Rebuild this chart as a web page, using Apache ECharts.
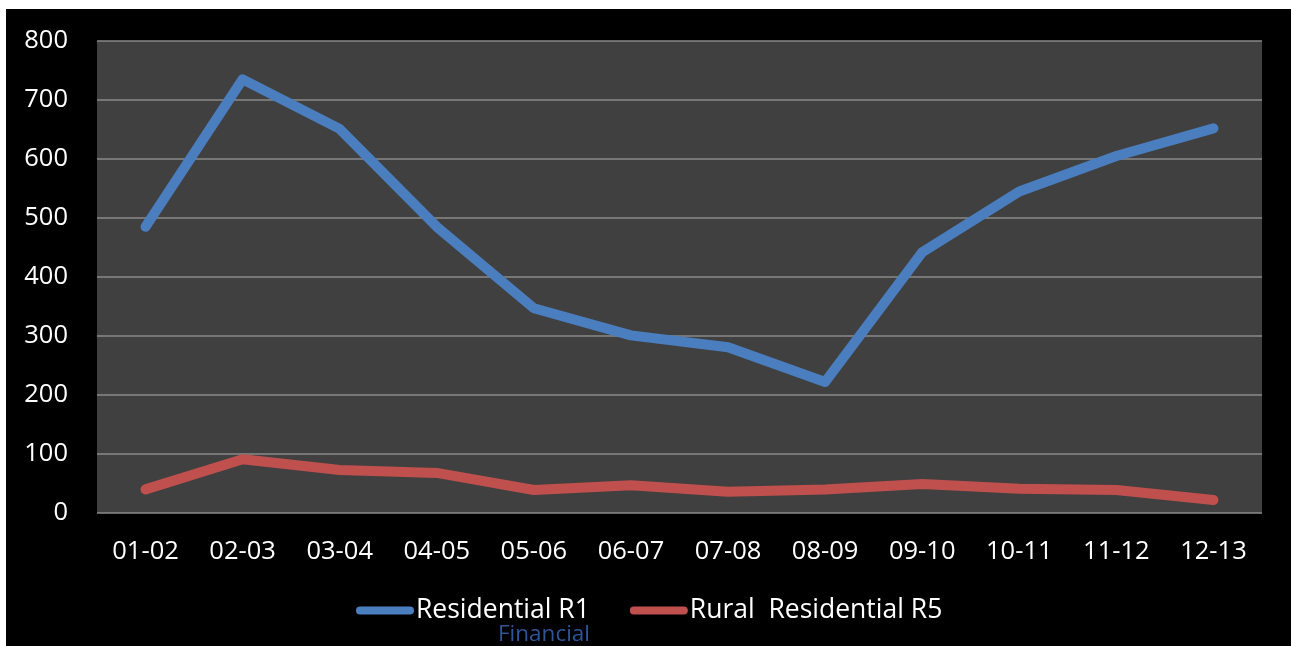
<!DOCTYPE html>
<html>
<head>
<meta charset="utf-8">
<script src="https://cdn.jsdelivr.net/npm/echarts@6/dist/echarts.min.js"></script>
<style>
  html, body { margin: 0; padding: 0; background: #ffffff; width: 1291px; height: 646px; overflow: hidden; }
  #chart { position: absolute; left: 6px; top: 9px; width: 1285px; height: 637px; background: #000000; }
</style>
</head>
<body>
<div id="chart"></div>
<script>
const periods = ['01-02', '02-03', '03-04', '04-05', '05-06', '06-07', '07-08', '08-09', '09-10', '10-11', '11-12', '12-13'];
const residentialR1 = [485, 735, 651, 485, 347, 301, 281, 222, 442, 545, 605, 652];
const ruralResidentialR5 = [40, 91, 73, 68, 39, 47, 36, 40, 49, 41, 39, 22];
const seriesNames = ['Residential R1', 'Rural  Residential R5'];
const footerText = 'Financial';

const FONT = '"Open Sans", "Noto Sans", sans-serif';
const capsule = 'path://M4,0 L54,0 A4,4 0 0 1 54,8 L4,8 A4,4 0 0 1 4,0 Z';

const chart = echarts.init(document.getElementById('chart'), null, { renderer: 'canvas' });

chart.setOption({
  backgroundColor: '#000000',
  animation: false,
  grid: {
    left: 91, right: 29, top: 32, bottom: 133,
    show: true, backgroundColor: '#404040', borderWidth: 0,
    containLabel: false
  },
  legend: {
    data: seriesNames,
    left: 350, top: 588, padding: 0,
    itemWidth: 58, itemHeight: 9, itemGap: 40,
    icon: capsule,
    textStyle: { color: '#ffffff', fontSize: 26.5, fontFamily: FONT, padding: [0, 0, 0, -3] }
  },
  xAxis: {
    type: 'category',
    data: periods,
    boundaryGap: true,
    axisLine: { show: false },
    axisTick: { show: false },
    axisLabel: { color: '#ffffff', fontSize: 25.5, fontFamily: FONT, margin: 26 }
  },
  yAxis: {
    type: 'value',
    min: 0, max: 800, interval: 100,
    axisLine: { show: false },
    axisTick: { show: false },
    axisLabel: { color: '#ffffff', fontSize: 25.5, fontFamily: FONT, margin: 29 },
    splitLine: { show: true, lineStyle: { color: '#8a8a8a', width: 1.5 } }
  },
  graphic: [{
    type: 'text',
    left: 492, top: 614,
    style: { text: footerText, fill: '#2f5597', fontSize: 22.5, fontFamily: FONT }
  }],
  series: [
    {
      name: seriesNames[0], type: 'line', data: residentialR1,
      symbol: 'none', smooth: false,
      lineStyle: { color: '#4a7ebf', width: 10, cap: 'round', join: 'round' },
      itemStyle: { color: '#4a7ebf' }
    },
    {
      name: seriesNames[1], type: 'line', data: ruralResidentialR5,
      symbol: 'none', smooth: false,
      lineStyle: { color: '#c0504d', width: 10, cap: 'round', join: 'round' },
      itemStyle: { color: '#c0504d' }
    }
  ]
});
</script>
</body>
</html>
